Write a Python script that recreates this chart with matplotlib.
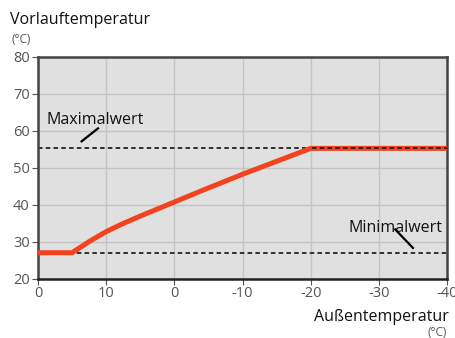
import matplotlib
matplotlib.use("Agg")
import matplotlib.pyplot as plt

# Heizkurve: Vorlauftemperatur über Außentemperatur
aussen = [20, 15, 12.5, 10, 7.5, 5, 0, -5, -10, -15, -20, -40]
vorlauf = [27.1, 27.1, 30.1, 32.8, 35.0, 37.0, 40.8, 44.6, 48.3, 51.8, 55.3, 55.3]

maximalwert = 55.5
minimalwert = 26.9

x_ticks = [20, 10, 0, -10, -20, -30, -40]
x_tick_labels = ["0", "10", "0", "-10", "-20", "-30", "-40"]
y_ticks = [20, 30, 40, 50, 60, 70, 80]

fig = plt.figure(figsize=(4.56, 3.38), dpi=100)
ax = fig.add_axes([0.0833, 0.1746, 0.8970, 0.6568])
ax.set_facecolor("#e0e0e0")

ax.set_xlim(20, -40)
ax.set_ylim(20, 80)
ax.set_xticks(x_ticks)
ax.set_xticklabels(x_tick_labels)
ax.set_yticks(y_ticks)
ax.grid(True, color="#c4c4c4", linewidth=1)
ax.set_axisbelow(True)

ax.axhline(maximalwert, color="#222222", linestyle=(0, (2.5, 1.8)), linewidth=1.3, zorder=2)
ax.axhline(minimalwert, color="#222222", linestyle=(0, (2.5, 1.8)), linewidth=1.3, zorder=2)
ax.plot(aussen, vorlauf, color="#f2421e", linewidth=3.6, solid_capstyle="butt",
        solid_joinstyle="miter", zorder=3)
ax.axhline(maximalwert, xmin=0.67, color="#222222", linestyle=(0, (2.5, 1.8)), linewidth=1.3, zorder=4)

for s in ax.spines.values():
    s.set_color("#444444")
    s.set_linewidth(1.8)
ax.spines["bottom"].set_color("#222222")

ax.tick_params(axis="both", colors="#555555", labelsize=10.5, length=4, width=0.8)
ax.tick_params(axis="y", pad=2)
ax.tick_params(axis="x", pad=1)
for lab in ax.get_xticklabels() + ax.get_yticklabels():
    lab.set_fontfamily("Open Sans")

# Beschriftungen
ax.text(18.7, 62.0, "Maximalwert", fontsize=11.5, family="Open Sans", color="#111111")
ax.plot([13.6, 11.2], [57.2, 60.7], color="black", linewidth=1.6, zorder=5)
ax.text(-25.5, 32.6, "Minimalwert", fontsize=11.5, family="Open Sans", color="#111111")
ax.plot([-32.4, -35.0], [33.4, 28.4], color="black", linewidth=1.6, zorder=5)

fig.text(0.022, 0.93, "Vorlauftemperatur", fontsize=11.5, family="Open Sans", color="#111111")
fig.text(0.026, 0.872, "(°C)", fontsize=8.5, family="Open Sans", color="#555555")
fig.text(0.984, 0.05, "Außentemperatur", fontsize=11.5, family="Open Sans", color="#111111", ha="right")
fig.text(0.98, 0.005, "(°C)", fontsize=8.5, family="Open Sans", color="#555555", ha="right")

fig.savefig("out.png", dpi=100)
